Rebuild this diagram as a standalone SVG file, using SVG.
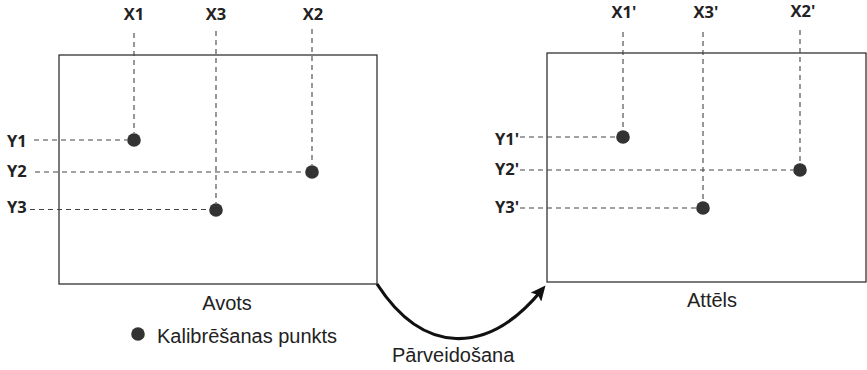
<svg xmlns="http://www.w3.org/2000/svg" width="867" height="370" viewBox="0 0 867 370">
<style>
.frame{fill:none;stroke:#222;stroke-width:1.2}
.dash{fill:none;stroke:#444;stroke-width:1.1;stroke-dasharray:5 4}
.pt{fill:#333}
.lbl{font-family:"Open Sans","Noto Sans",sans-serif;font-weight:700;font-size:16.5px;fill:#222}
.cap{font-family:"Liberation Sans",Arial,sans-serif;font-size:20px;fill:#222}
.arc{fill:none;stroke:#111;stroke-width:3.2}
</style>
<defs>
<marker id="ah" markerUnits="userSpaceOnUse" markerWidth="16" markerHeight="14" refX="8" refY="7" orient="auto">
<path d="M0,0 L15,7 L0,14 L3,7 z" fill="#111"/>
</marker>
</defs>
<rect width="867" height="370" fill="#fff"/>

<g id="source">
<rect class="frame" x="59" y="55" width="318" height="229"/>
<text class="cap" x="227" y="310" text-anchor="middle">Avots</text>
</g>
<g id="target">
<rect class="frame" x="547" y="53" width="319" height="229"/>
<text class="cap" x="712" y="307" text-anchor="middle">Attēls</text>
</g>

<g id="legend">
<circle class="pt" cx="138" cy="334" r="6.8"/>
<text class="cap" x="157" y="343">Kalibrēšanas punkts</text>
</g>

<g id="source-points">
<text class="lbl" x="134" y="20" text-anchor="middle">X1</text>
<text class="lbl" x="216" y="20" text-anchor="middle">X3</text>
<text class="lbl" x="313" y="20" text-anchor="middle">X2</text>
<text class="lbl" x="7" y="147">Y1</text>
<text class="lbl" x="7" y="177">Y2</text>
<text class="lbl" x="7" y="213">Y3</text>
<circle class="pt" cx="134" cy="140" r="6.8"/>
<circle class="pt" cx="312" cy="172" r="6.8"/>
<circle class="pt" cx="216" cy="210" r="6.8"/>
</g>

<g id="target-points">
<text class="lbl" x="624" y="18" text-anchor="middle">X1'</text>
<text class="lbl" x="706" y="18" text-anchor="middle">X3'</text>
<text class="lbl" x="803" y="17" text-anchor="middle">X2'</text>
<text class="lbl" x="495" y="145">Y1'</text>
<text class="lbl" x="495" y="175">Y2'</text>
<text class="lbl" x="495" y="213">Y3'</text>
<circle class="pt" cx="623" cy="137" r="6.8"/>
<circle class="pt" cx="800" cy="170" r="6.8"/>
<circle class="pt" cx="703" cy="208" r="6.8"/>
</g>

<g id="connectors">
<path class="dash" d="M134,33 V133 M216,31 V203 M312,29 V165"/>
<path class="dash" d="M34,140 H127 M35,172 H305 M30,209.5 H209"/>
<path class="dash" d="M623,32 V130 M703,32 V201 M800,30 V163"/>
<path class="dash" d="M520,137 H616 M520,170 H793 M520,208 H696"/>
<path class="arc" d="M377,284 C423,355 487,356 541,291" marker-end="url(#ah)"/>
<text class="cap" x="392" y="362">Pārveidošana</text>
</g>
</svg>
